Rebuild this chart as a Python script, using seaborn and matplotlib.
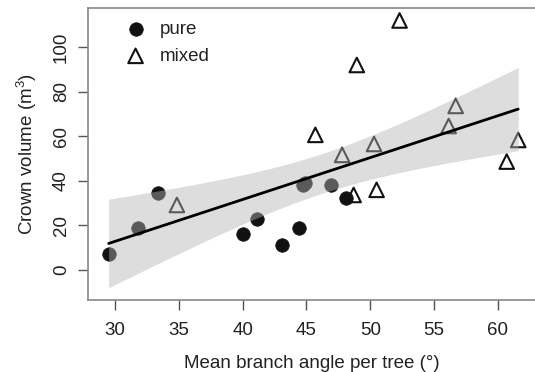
import numpy as np
import pandas as pd
import matplotlib
matplotlib.use("Agg")
import matplotlib.pyplot as plt
import seaborn as sns

# Data
pure_angle = [29.5, 31.8, 33.4, 40.0, 41.1, 43.1, 44.4, 44.7, 44.9, 46.9, 48.1]
pure_volume = [7.2, 19.0, 34.8, 16.0, 22.8, 11.2, 19.0, 38.0, 39.2, 38.2, 32.5]
mixed_angle = [34.85, 45.7, 47.8, 48.7, 48.95, 50.3, 50.5, 52.3, 56.15, 56.7, 60.7, 61.6]
mixed_volume = [29.2, 60.7, 51.7, 33.7, 92.1, 56.6, 36.0, 112.1, 64.7, 73.7, 48.7, 58.4]

x_ticks = [30, 35, 40, 45, 50, 55, 60]
y_ticks = [0, 20, 40, 60, 80, 100]

df = pd.DataFrame({
    "angle": pure_angle + mixed_angle,
    "volume": pure_volume + mixed_volume,
    "stand": ["pure"] * len(pure_angle) + ["mixed"] * len(mixed_angle),
})

sns.set_style("white")
plt.rcParams["font.family"] = ["Liberation Sans", "DejaVu Sans"]
plt.rcParams["mathtext.fontset"] = "custom"
plt.rcParams["mathtext.rm"] = "Liberation Sans"
plt.rcParams["mathtext.default"] = "regular"

FS = 13.5
TXT = "#222222"

fig = plt.figure(figsize=(5.35, 3.72), dpi=100)
ax = fig.add_axes([88 / 535, 1 - 300 / 372, 1 - 88 / 535 + 0.002, (300 - 8) / 372])

sns.scatterplot(data=df[df.stand == "pure"], x="angle", y="volume", ax=ax,
                marker="o", s=95, color="#111111", edgecolor="#111111",
                linewidth=0.5, label="pure", zorder=1)
sns.scatterplot(data=df[df.stand == "mixed"], x="angle", y="volume", ax=ax,
                marker="^", s=110, facecolor="none", edgecolor="#111111",
                linewidth=1.5, label="mixed", zorder=1)

# regression line from seaborn
sns.regplot(data=df, x="angle", y="volume", ax=ax, scatter=False, ci=None,
            color="black", line_kws=dict(linewidth=2, zorder=4))

# analytic 95% confidence band of the linear fit
x = df["angle"].to_numpy()
y = df["volume"].to_numpy()
n = len(x)
b1, b0 = np.polyfit(x, y, 1)
resid = y - (b0 + b1 * x)
s = np.sqrt(np.sum(resid ** 2) / (n - 2))
try:
    from scipy import stats
    tq = stats.t.ppf(0.975, n - 2)
except Exception:
    tq = 2.08
xg = np.linspace(x.min(), x.max(), 200)
se = s * np.sqrt(1 / n + (xg - x.mean()) ** 2 / np.sum((x - x.mean()) ** 2))
yg = b0 + b1 * xg
ax.fill_between(xg, yg - tq * se, yg + tq * se,
                color=(180 / 255, 180 / 255, 180 / 255), alpha=0.45,
                linewidth=0, zorder=3)

ax.set_xlim(27.88, 63.0)
ax.set_ylim(-13.5, 117.7)
ax.set_xticks(x_ticks)
ax.set_yticks(y_ticks)
ax.set_xticklabels([str(t) for t in x_ticks], fontsize=FS, color=TXT)
ax.set_yticklabels([str(t) for t in y_ticks], fontsize=FS, rotation=90,
                   va="center", color=TXT)

ax.set_xlabel("Mean branch angle per tree (°)", fontsize=FS, labelpad=11, color=TXT)
ax.set_ylabel("Crown volume (m$^3$)", fontsize=FS, labelpad=10, color=TXT)

for side in ["left", "bottom", "top"]:
    ax.spines[side].set_color("#888888")
    ax.spines[side].set_linewidth(1.2)
ax.spines["right"].set_visible(False)

ax.tick_params(axis="both", direction="out", length=7, width=1, color="#555555",
               bottom=True, left=True)
ax.tick_params(axis="x", pad=9)
ax.tick_params(axis="y", pad=6)

leg = ax.legend(loc="upper left", bbox_to_anchor=(0.035, 1.0), frameon=False,
                fontsize=FS, handletextpad=0.3, labelspacing=0.5,
                borderaxespad=0.3)
for t in leg.get_texts():
    t.set_color(TXT)

fig.savefig("out.png", dpi=100)
